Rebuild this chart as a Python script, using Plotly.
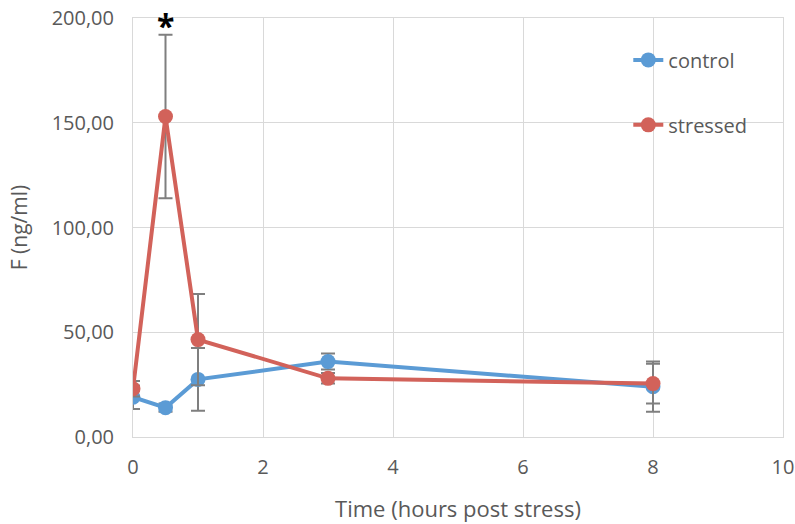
import plotly.graph_objects as go

time_h = [0, 0.5, 1, 3, 8]
control = [19.0, 14.0, 27.5, 36.0, 24.0]
control_err = [5.6, 2.0, 15.0, 3.8, 12.0]
stressed = [23.0, 153.0, 46.5, 28.0, 25.5]
stressed_err = [3.7, 39.0, 21.8, 2.5, 9.5]

BLUE = "#5B9BD5"
RED = "#D2625A"
GRID = "#D9D9D9"
TXT = "#595959"
FONT = "Open Sans"

fig = go.Figure()
for name, ys, err, col, lg in [("control", control, control_err, BLUE, "legend"),
                               ("stressed", stressed, stressed_err, RED, "legend2")]:
    fig.add_trace(go.Scatter(
        x=time_h, y=ys, name=name, mode="lines+markers",
        line=dict(color=col, width=4),
        marker=dict(color=col, size=15),
        error_y=dict(type="data", array=err, visible=True, color="#7F7F7F",
                     thickness=2, width=7),
        legend=lg, showlegend=True,
    ))

fig.add_annotation(x=0.5, y=192, yshift=-14, text="<b>*</b>", showarrow=False,
                   yanchor="bottom", font=dict(size=32, color="black", family=FONT))

axis_common = dict(showgrid=True, gridcolor=GRID, gridwidth=1, zeroline=False,
                   showline=True, linecolor=GRID, linewidth=1, mirror=True,
                   ticks="", tickfont=dict(size=20, color=TXT, family=FONT),
                   ticklabeloverflow="allow", automargin=False)

fig.update_layout(
    width=795, height=524,
    margin=dict(l=133, r=12, t=18, b=87),
    paper_bgcolor="white", plot_bgcolor="white",
    separators=",.",
    showlegend=True,
    font=dict(family=FONT, color=TXT),
    xaxis=dict(range=[0, 10], dtick=2, tickformat="d", ticklabelstandoff=12,
               title=dict(text="Time (hours post stress)", font=dict(size=22, color=TXT), standoff=22),
               **axis_common),
    yaxis=dict(range=[0, 200], dtick=50, tickformat=".2f", ticklabelstandoff=14,
               title=dict(text="F (ng/ml)", font=dict(size=21, color=TXT), standoff=18),
               **axis_common),
    legend=dict(x=0.762, y=0.90, xanchor="left", yanchor="middle",
                bgcolor="rgba(0,0,0,0)", font=dict(size=20, color=TXT, family=FONT)),
    legend2=dict(x=0.762, y=0.745, xanchor="left", yanchor="middle",
                 bgcolor="rgba(0,0,0,0)", font=dict(size=20, color=TXT, family=FONT)),
)

fig.write_html("out.html")
